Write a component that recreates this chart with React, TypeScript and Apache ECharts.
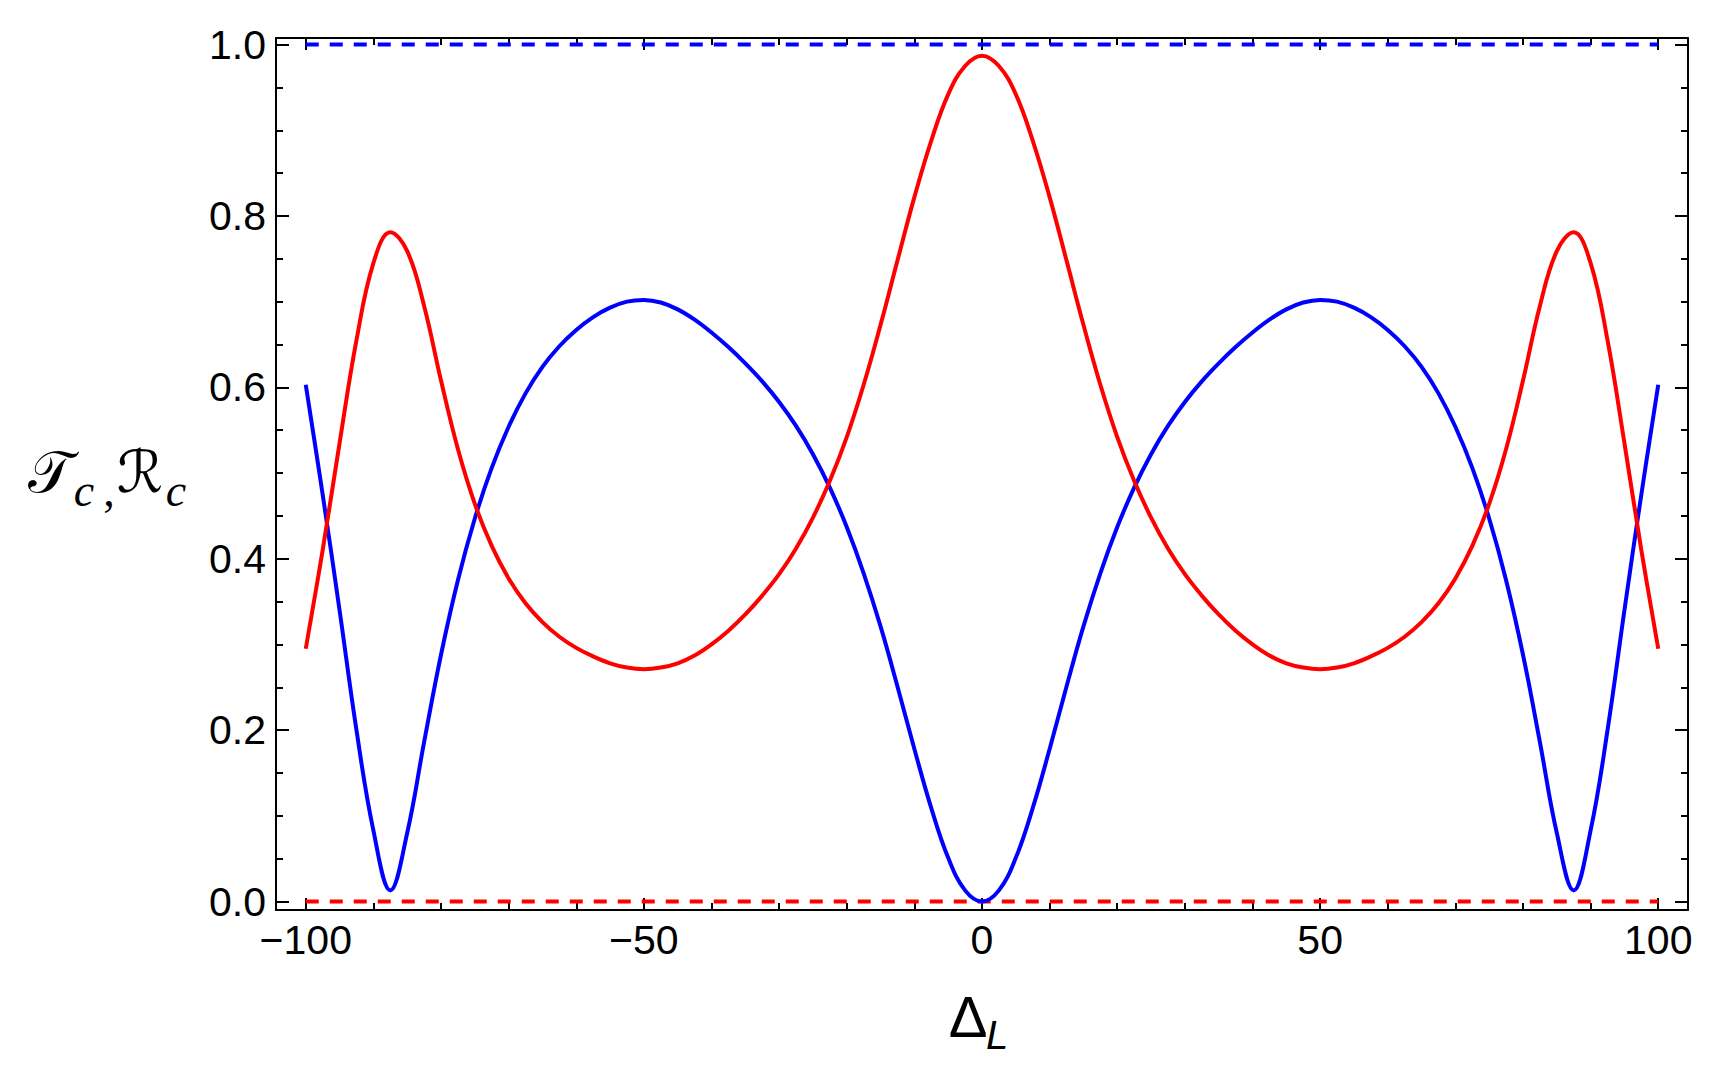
import React, { useEffect, useRef } from "react";
import * as echarts from "echarts";

// Detuning Δ_L sample positions
const DELTA_L = [
  -100, -97.5, -95, -92.5, -90, -87.5, -85, -82.5, -80, -77.5, -75, -72.5, -70, -67.5, -65, -62.5, -60,
  -57.5, -55, -52.5, -50, -47.5, -45, -42.5, -40, -37.5, -35, -32.5, -30, -27.5, -25, -22.5, -20, -17.5,
  -15, -12.5, -10, -7.5, -5, -2.5, 0,
  2.5, 5, 7.5, 10, 12.5, 15, 17.5, 20, 22.5, 25, 27.5, 30, 32.5, 35, 37.5, 40, 42.5, 45, 47.5, 50,
  52.5, 55, 57.5, 60, 62.5, 65, 67.5, 70, 72.5, 75, 77.5, 80, 82.5, 85, 87.5, 90, 92.5, 95, 97.5, 100,
];

// Transmission T_c (blue)
const T_C = [
  0.603, 0.475, 0.34, 0.2, 0.083, 0.013, 0.08, 0.186, 0.288, 0.375, 0.447, 0.506, 0.554, 0.593, 0.624, 0.648, 0.667,
  0.682, 0.693, 0.7, 0.702, 0.699, 0.691, 0.679, 0.664, 0.647, 0.628, 0.607, 0.583, 0.555, 0.522, 0.483, 0.437, 0.383,
  0.321, 0.251, 0.178, 0.109, 0.051, 0.013, 0,
  0.013, 0.051, 0.109, 0.178, 0.251, 0.321, 0.383, 0.437, 0.483, 0.522, 0.555, 0.583, 0.607, 0.628, 0.647, 0.664,
  0.679, 0.691, 0.699, 0.702, 0.7, 0.693, 0.682, 0.667, 0.648, 0.624, 0.593, 0.554, 0.506, 0.447, 0.375, 0.288, 0.186,
  0.08, 0.013, 0.083, 0.2, 0.34, 0.475, 0.603,
];

// Reflection R_c (red)
const R_C = [
  0.295, 0.41, 0.535, 0.655, 0.745, 0.781, 0.759, 0.695, 0.608, 0.528, 0.464, 0.415, 0.377, 0.348, 0.326, 0.309, 0.296,
  0.286, 0.278, 0.273, 0.271, 0.273, 0.278, 0.287, 0.3, 0.316, 0.335, 0.357, 0.382, 0.412, 0.448, 0.491, 0.542, 0.603,
  0.673, 0.748, 0.822, 0.888, 0.942, 0.975, 0.987,
  0.975, 0.942, 0.888, 0.822, 0.748, 0.673, 0.603, 0.542, 0.491, 0.448, 0.412, 0.382, 0.357, 0.335, 0.316, 0.3,
  0.287, 0.278, 0.273, 0.271, 0.273, 0.278, 0.286, 0.296, 0.309, 0.326, 0.348, 0.377, 0.415, 0.464, 0.528, 0.608, 0.695,
  0.759, 0.781, 0.745, 0.655, 0.535, 0.41, 0.295,
];

// Reference dashed lines
const DASH_X = [-100, 100];
const BLUE_DASH_Y = [1, 1];
const RED_DASH_Y = [0, 0];

// Ticks
const X_MAJOR = [-100, -50, 0, 50, 100];
const X_MINOR = [-90, -80, -70, -60, -40, -30, -20, -10, 10, 20, 30, 40, 60, 70, 80, 90];
const Y_MAJOR = [0, 0.2, 0.4, 0.6, 0.8, 1.0];
const Y_MINOR = [0.05, 0.1, 0.15, 0.25, 0.3, 0.35, 0.45, 0.5, 0.55, 0.65, 0.7, 0.75, 0.85, 0.9, 0.95];

const X_MIN = -104.4;
const X_MAX = 104.4;
const Y_MIN = -0.0099;
const Y_MAX = 1.0077;

const FONT = "'Liberation Sans', Arial, sans-serif";

export default function App() {
  const ref = useRef<HTMLDivElement>(null);

  useEffect(() => {
    if (!ref.current) return;
    const chart = echarts.init(ref.current, null, { renderer: "svg" });

    const axisLineStyle = { color: "#000", width: 2 };
    const mkX = (position: string, ticks: number[], len: number, showLine: boolean, labels: boolean) => ({
      type: "value",
      min: X_MIN,
      max: X_MAX,
      position,
      axisLine: { show: showLine, onZero: false, lineStyle: axisLineStyle },
      axisTick: { show: true, inside: true, length: len, customValues: ticks, lineStyle: { color: "#000", width: 2 } },
      axisLabel: labels
        ? {
            show: true,
            customValues: ticks,
            margin: 9,
            color: "#000",
            fontSize: 41,
            fontFamily: FONT,
            formatter: (v: number) => (v < 0 ? "\u2212" + Math.abs(v) : String(v)),
          }
        : { show: false },
      splitLine: { show: false },
    });
    const mkY = (position: string, ticks: number[], len: number, showLine: boolean, labels: boolean) => ({
      type: "value",
      min: Y_MIN,
      max: Y_MAX,
      position,
      axisLine: { show: showLine, onZero: false, lineStyle: axisLineStyle },
      axisTick: { show: true, inside: true, length: len, customValues: ticks, lineStyle: { color: "#000", width: 2 } },
      axisLabel: labels
        ? {
            show: true,
            customValues: ticks,
            margin: 10,
            color: "#000",
            fontSize: 41,
            fontFamily: FONT,
            formatter: (v: number) => v.toFixed(1),
          }
        : { show: false },
      splitLine: { show: false },
    });

    const toPairs = (xs: number[], ys: number[]) => xs.map((x, i) => [x, ys[i]]);

    const option: any = {
      animation: false,
      backgroundColor: "#fff",
      grid: { left: 276, right: 36, top: 38, bottom: 156, containLabel: false },
      xAxis: [
        mkX("bottom", X_MAJOR, 12, true, true),
        mkX("bottom", X_MINOR, 7, false, false),
        mkX("top", X_MAJOR, 12, true, false),
        mkX("top", X_MINOR, 7, false, false),
      ],
      yAxis: [
        mkY("left", Y_MAJOR, 13, true, true),
        mkY("left", Y_MINOR, 7, false, false),
        mkY("right", Y_MAJOR, 13, true, false),
        mkY("right", Y_MINOR, 7, false, false),
      ],
      series: [
        {
          name: "Rdash",
          type: "line",
          data: toPairs(DASH_X, RED_DASH_Y),
          symbol: "none",
          lineStyle: { color: "#ff0000", width: 4, type: [13, 11] },
          silent: true,
        },
        {
          name: "Tdash",
          type: "line",
          data: toPairs(DASH_X, BLUE_DASH_Y),
          symbol: "none",
          lineStyle: { color: "#0000ff", width: 4, type: [13, 11] },
          silent: true,
        },
        {
          name: "T",
          type: "line",
          data: toPairs(DELTA_L, T_C),
          symbol: "none",
          smooth: 0.4,
          lineStyle: { color: "#0000ff", width: 4 },
        },
        {
          name: "R",
          type: "line",
          data: toPairs(DELTA_L, R_C),
          symbol: "none",
          smooth: 0.4,
          lineStyle: { color: "#ff0000", width: 4 },
        },
      ],
      graphic: [
        // y-axis title: script T_c , script R_c
        { type: "text", x: 50, y: 472, style: { text: "\u{1D4AF}", fontSize: 58, fontFamily: "'DejaVu Serif', 'DejaVu Sans', serif", fill: "#000", align: "center", verticalAlign: "middle" } },
        { type: "text", x: 84, y: 490, style: { text: "c", fontSize: 46, fontStyle: "italic", fontFamily: "'Liberation Serif', serif", fill: "#000", align: "center", verticalAlign: "middle" } },
        { type: "text", x: 109, y: 490, style: { text: ",", fontSize: 46, fontFamily: "'Liberation Serif', serif", fill: "#000", align: "center", verticalAlign: "middle" } },
        { type: "text", x: 140, y: 472, style: { text: "\u211B", fontSize: 58, fontFamily: "'DejaVu Serif', 'DejaVu Sans', serif", fill: "#000", align: "center", verticalAlign: "middle" } },
        { type: "text", x: 176, y: 490, style: { text: "c", fontSize: 46, fontStyle: "italic", fontFamily: "'Liberation Serif', serif", fill: "#000", align: "center", verticalAlign: "middle" } },
        // x-axis title: Δ_L
        { type: "text", x: 968, y: 1016, style: { text: "\u0394", fontSize: 58, fontFamily: FONT, fill: "#000", align: "center", verticalAlign: "middle" } },
        { type: "text", x: 986, y: 1035, style: { text: "L", fontSize: 40, fontStyle: "italic", fontFamily: FONT, fill: "#000", align: "left", verticalAlign: "middle" } },
      ],
    };

    chart.setOption(option);
    return () => chart.dispose();
  }, []);

  return (
    <div
      ref={ref}
      style={{ position: "fixed", left: 0, top: 0, width: 1724, height: 1066, background: "#fff" }}
    />
  );
}
